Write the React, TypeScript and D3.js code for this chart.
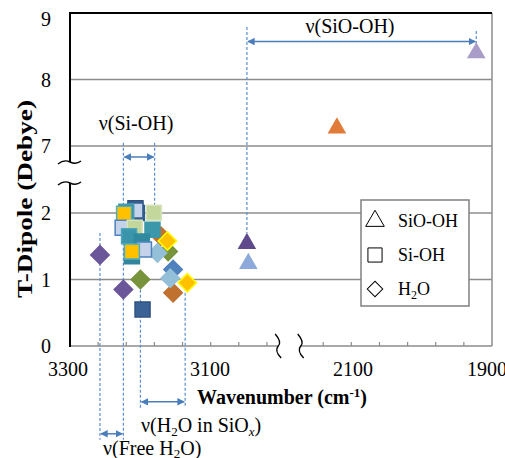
import React from 'react';
import * as d3 from 'd3';

const W = 505;
const H = 458;

// y axis values (axis broken between 2 and 7)
const yTickValues = [0, 1, 2, 7, 8, 9];
const gridValues = [1, 2, 7, 8];

// x axis labels, two segments
const xLabelsLeft = [3300, 3100];
const xLabelsRight = [2100, 1900];

// SiO-OH (triangles)
const triWave = [3048, 3046, 2124, 1916];
const triDipole = [1.54, 1.24, 7.27, 8.4];

// Si-OH (squares)
const sqWave = [3203, 3205, 3205, 3218, 3221, 3223, 3206, 3179, 3181, 3214, 3196, 3210, 3193, 3210, 3195];
const sqDipole = [2.0, 2.35, 2.18, 2.1, 1.99, 1.78, 1.78, 2.01, 1.75, 1.65, 1.57, 1.35, 1.45, 1.42, 0.55];

// H2O (diamonds)
const dmWave = [3255, 3222, 3198, 3159, 3169, 3160, 3174, 3152, 3152, 3156, 3132];
const dmDipole = [1.37, 0.85, 1.0, 1.42, 1.65, 1.58, 1.4, 1.15, 0.8, 1.02, 0.95];

// marker colours
const triFill = ['#5f4a8b', '#8eaadb', '#e07b39', '#a99cc8'];
const sqFill = ['#2e5c8a', '#3b6296', '#c5d3ea', '#31859c', '#ffc000', '#c5d3ea', '#c3d69b', '#c3d69b', '#3d97ab', '#3a95ab', '#2f8aa0', '#31859c', '#c5d3ea', '#ffc000', '#3b6296'];
const sqStroke = ['#2e5c8a', '#2f5283', '#365f91', '#4a9bb0', '#4bacc6', '#4f81bd', '#d7e4bd', '#d7e4bd', '#3d97ab', '#4aa5bb', '#2f8aa0', '#31859c', '#4f81bd', '#4bacc6', '#2f5283'];
const dmFill = ['#6b569a', '#6b569a', '#77933c', '#77933c', '#c0702f', '#ffc000', '#93c0d8', '#4f81bd', '#c0702f', '#93c0d8', '#ffc000'];
const dmStroke = ['#6b569a', '#6b569a', '#77933c', '#77933c', '#c0702f', '#ffff00', '#93c0d8', '#4f81bd', '#c0702f', '#93c0d8', '#ffff00'];

// dashed guide lines: wavenumber, top and bottom in dipole units
const guideWave = [3255, 3222, 3178, 3198, 3135, 3048, 1916];
const guideTop = [1.7, 7.05, 7.05, 0.92, 0.95, 8.79, 8.73];
const guideBottom = [-1.41, -1.41, 1.8, -0.93, -0.93, 1.7, 8.35];

// range arrows
const arrowFrom = [3255, 3222, 3198, 3048];
const arrowTo = [3222, 3178, 3135, 1916];
const arrowLevel = [-1.32, 6.18, -0.84, 8.57];

const serif = 'Liberation Serif, Times New Roman, serif';
const guideColor = '#5b8fd0';
const arrowColor = '#4a7ebb';

const App = () => {
  const left = 70;
  const right = 492;
  const top = 13;
  const bottom = 346;

  const xLeft = d3.scaleLinear().domain([3300, 3100]).range([68, 210]);
  const xRight = d3.scaleLinear().domain([2100, 1900]).range([353, 487]);
  const x = (w: number) => (w > 2600 ? xLeft(w) : xRight(w));
  const xTick = d3.scaleLinear().domain([0, 15]).range([left, right]);
  const y = d3.scaleLinear().domain([0, 2, 7, 9]).range([bottom, 213, 146, top]);

  const tri = d3.symbol().type(d3.symbolTriangle).size(150)();
  const sq = d3.symbol().type(d3.symbolSquare).size(225)();
  const dm = d3.symbol().type(d3.symbolSquare).size(170)();

  const breakX = [xTick(7.4), xTick(8.2)];
  const breakY = [162, 183];
  const tickIdx = d3.range(1, 15).filter((i) => i !== 8);

  const vSquiggle = (cx: number) => {
    const p = d3.path();
    p.moveTo(cx - 3, bottom - 12);
    p.quadraticCurveTo(cx + 4, bottom - 4, cx, bottom);
    p.quadraticCurveTo(cx - 4, bottom + 5, cx + 3, bottom + 12);
    return p.toString();
  };
  const hSquiggle = (cy: number) => {
    const p = d3.path();
    p.moveTo(left - 12, cy + 2);
    p.quadraticCurveTo(left - 6, cy - 3, left, cy);
    p.quadraticCurveTo(left + 6, cy + 3, left + 11, cy - 1);
    return p.toString();
  };

  return (
    <svg width={W} height={H} style={{ position: 'absolute', left: 0, top: 0, background: '#fff', fontFamily: serif }}>
      <defs>
        <marker id="ah" viewBox="0 0 10 10" refX="9" refY="5" markerWidth="5" markerHeight="5" orient="auto-start-reverse">
          <path d="M0,0 L10,5 L0,10 z" fill={arrowColor} />
        </marker>
      </defs>

      {/* grid */}
      {gridValues.map((v) => (
        <line key={v} x1={left} x2={right} y1={y(v)} y2={y(v)} stroke="#8c8c8c" strokeWidth={1.5} />
      ))}
      <line x1={right} x2={right} y1={top} y2={bottom} stroke="#8c8c8c" strokeWidth={1.5} />
      <line x1={left} x2={right} y1={top} y2={top} stroke="#000" strokeWidth={2} />

      {/* x axis, broken */}
      <line x1={left} x2={breakX[0]} y1={bottom} y2={bottom} stroke="#8c8c8c" strokeWidth={1.5} />
      <line x1={breakX[1]} x2={right} y1={bottom} y2={bottom} stroke="#8c8c8c" strokeWidth={1.5} />
      {tickIdx.map((i) => (
        <line key={i} x1={xTick(i)} x2={xTick(i)} y1={bottom} y2={bottom - 4} stroke="#8c8c8c" strokeWidth={1.2} />
      ))}
      {breakX.map((bx, i) => (
        <path key={i} d={vSquiggle(bx)} fill="none" stroke="#000" strokeWidth={1.4} />
      ))}

      {/* y axis, broken */}
      <line x1={left} x2={left} y1={top - 1} y2={breakY[0]} stroke="#000" strokeWidth={2} />
      <line x1={left} x2={left} y1={breakY[1]} y2={bottom + 1} stroke="#000" strokeWidth={2} />
      {breakY.map((by, i) => (
        <path key={i} d={hSquiggle(by)} fill="none" stroke="#000" strokeWidth={1.4} />
      ))}

      {/* tick labels */}
      {yTickValues.map((v) => (
        <text key={v} x={51} y={Math.max(y(v), 19)} dy="0.35em" textAnchor="end" fontSize={20}>{v}</text>
      ))}
      {xLabelsLeft.map((v) => (
        <text key={v} x={xLeft(v)} y={376} textAnchor="middle" fontSize={20}>{v}</text>
      ))}
      {xLabelsRight.map((v) => (
        <text key={v} x={xRight(v)} y={376} textAnchor="middle" fontSize={20}>{v}</text>
      ))}

      {/* axis titles */}
      <text x={282} y={404} textAnchor="middle" fontSize={20} fontWeight="bold">
        Wavenumber (cm<tspan dy={-7} fontSize={13}>-1</tspan><tspan dy={7}>)</tspan>
      </text>
      <text transform="translate(32,199) rotate(-90)" textAnchor="middle" fontSize={20} fontWeight="bold" textLength={198} lengthAdjust="spacingAndGlyphs">
        T-Dipole (Debye)
      </text>

      {/* guides */}
      {guideWave.map((w, i) => (
        <line key={i} x1={x(w)} x2={x(w)} y1={y(guideTop[i])} y2={y(guideBottom[i])} stroke={guideColor} strokeWidth={1.2} strokeDasharray="3,2" />
      ))}
      {arrowFrom.map((w, i) => (
        <line key={i} x1={x(w) + 1} x2={x(arrowTo[i]) - 1} y1={y(arrowLevel[i])} y2={y(arrowLevel[i])} stroke={arrowColor} strokeWidth={1.5} markerStart="url(#ah)" markerEnd="url(#ah)" />
      ))}

      {/* diamonds */}
      {dmWave.map((w, i) => (
        <path key={i} d={dm} transform={`translate(${x(w)},${y(dmDipole[i])}) rotate(45)`} fill={dmFill[i]} stroke={dmStroke[i]} strokeWidth={1.5} />
      ))}
      {/* squares */}
      {sqWave.map((w, i) => (
        <path key={i} d={sq} transform={`translate(${x(w)},${y(sqDipole[i])})`} fill={sqFill[i]} stroke={sqStroke[i]} strokeWidth={1.5} />
      ))}
      {/* triangles */}
      {triWave.map((w, i) => (
        <path key={i} d={tri} transform={`translate(${x(w)},${y(triDipole[i])})`} fill={triFill[i]} />
      ))}

      {/* annotations */}
      <text x={350} y={33} textAnchor="middle" fontSize={20}>ν(SiO-OH)</text>
      <text x={136} y={130} textAnchor="middle" fontSize={20}>ν(Si-OH)</text>
      <text x={141} y={432} fontSize={20}>
        ν(H<tspan dy={4} fontSize={13}>2</tspan><tspan dy={-4}>O in SiO</tspan><tspan dy={4} fontSize={13} fontStyle="italic">x</tspan><tspan dy={-4}>)</tspan>
      </text>
      <text x={103} y={455} fontSize={20}>
        ν(Free H<tspan dy={3} fontSize={13}>2</tspan><tspan dy={-3}>O)</tspan>
      </text>

      {/* legend */}
      <rect x={361} y={200} width={108} height={106} fill="#fff" stroke="#808080" strokeWidth={1.5} />
      <path d={tri} transform="translate(375,221)" fill="none" stroke="#000" strokeWidth={1} />
      <path d={d3.symbol().type(d3.symbolSquare).size(200)()} transform="translate(375,255)" fill="none" stroke="#000" strokeWidth={1} />
      <path d={d3.symbol().type(d3.symbolSquare).size(120)()} transform="translate(375,289) rotate(45)" fill="none" stroke="#000" strokeWidth={1} />
      <text x={398} y={221} dy="0.35em" fontSize={18}>SiO-OH</text>
      <text x={398} y={255} dy="0.35em" fontSize={18}>Si-OH</text>
      <text x={398} y={289} dy="0.35em" fontSize={18}>
        H<tspan dy={4} fontSize={12}>2</tspan><tspan dy={-4}>O</tspan>
      </text>
    </svg>
  );
};

export default App;
